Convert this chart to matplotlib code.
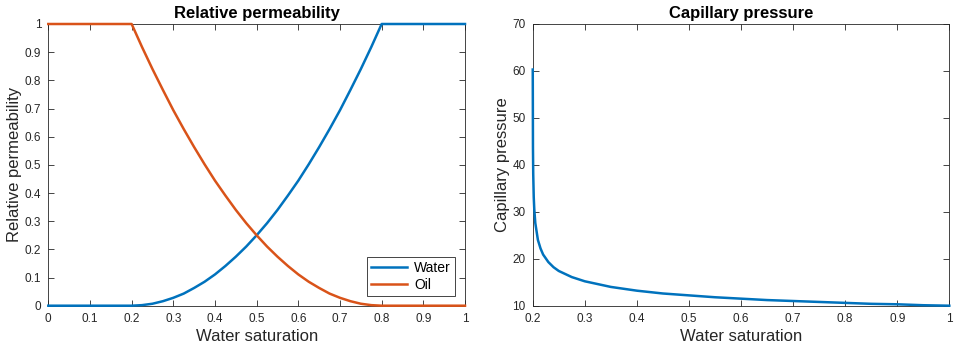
import matplotlib
matplotlib.use("Agg")
import matplotlib.pyplot as plt
from matplotlib.ticker import FuncFormatter, MultipleLocator

# ---- data ----
sw_rel = [0.0, 0.1, 0.2, 0.225, 0.25, 0.275, 0.3, 0.325, 0.35, 0.375, 0.4, 0.425,
          0.45, 0.475, 0.5, 0.525, 0.55, 0.575, 0.6, 0.625, 0.65, 0.675, 0.7,
          0.725, 0.75, 0.775, 0.8, 0.9, 1.0]
krw = [0.0, 0.0, 0.0, 0.002, 0.007, 0.016, 0.028, 0.043, 0.063, 0.085, 0.111, 0.141,
       0.174, 0.210, 0.250, 0.293, 0.340, 0.391, 0.444, 0.502, 0.563, 0.627, 0.694,
       0.766, 0.840, 0.918, 1.0, 1.0, 1.0]
kro = [1.0, 1.0, 1.0, 0.918, 0.840, 0.766, 0.694, 0.627, 0.563, 0.502, 0.444, 0.391,
       0.340, 0.293, 0.250, 0.210, 0.174, 0.141, 0.111, 0.085, 0.063, 0.043, 0.028,
       0.016, 0.007, 0.002, 0.0, 0.0, 0.0]

sw_pc = [0.2001, 0.2005, 0.201, 0.202, 0.203, 0.205, 0.21, 0.215, 0.22, 0.23, 0.24,
         0.25, 0.275, 0.3, 0.35, 0.4, 0.45, 0.5, 0.55, 0.6, 0.65, 0.7, 0.75, 0.8,
         0.85, 0.9, 0.95, 1.0]
pc = [60.3, 43.7, 38.1, 33.1, 30.6, 27.6, 24.0, 22.2, 20.9, 19.3, 18.2,
      17.4, 16.1, 15.2, 14.0, 13.2, 12.6, 12.2, 11.8, 11.5, 11.2, 11.0, 10.8, 10.6,
      10.4, 10.3, 10.1, 10.0]

series_labels = ["Water", "Oil"]
titles = ["Relative permeability", "Capillary pressure"]
xlabel = "Water saturation"
ylabels = ["Relative permeability", "Capillary pressure"]

blue = "#0072BD"
orange = "#D95319"
axcol = "#262626"

plt.rcParams['font.family'] = ['Liberation Sans', 'DejaVu Sans']

fig = plt.figure(figsize=(9.69, 3.52), dpi=100)
W, H = 969, 352
def rect(x0, x1, ytop, ybot):
    return [x0 / W, 1 - ybot / H, (x1 - x0) / W, (ybot - ytop) / H]

ax1 = fig.add_axes(rect(48.3, 465, 24, 305.7))
ax2 = fig.add_axes(rect(532.7, 949.3, 24, 305.7))

fmt = FuncFormatter(lambda v, p: ("%g" % round(v, 6)))

def style(ax):
    ax.tick_params(direction="in", top=True, right=True, length=4, width=0.6,
                   labelsize=8.5, colors=axcol, pad=5)
    for s in ax.spines.values():
        s.set_color(axcol)
        s.set_linewidth(0.6)
    ax.xaxis.set_major_formatter(fmt)
    ax.yaxis.set_major_formatter(fmt)

l1, = ax1.plot(sw_rel, krw, color=blue, lw=1.8, label=series_labels[0],
               clip_on=False, zorder=3)
l2, = ax1.plot(sw_rel, kro, color=orange, lw=1.8, label=series_labels[1],
               clip_on=False, zorder=3)
ax1.set_xlim(0, 1)
ax1.set_ylim(0, 1)
ax1.xaxis.set_major_locator(MultipleLocator(0.1))
ax1.yaxis.set_major_locator(MultipleLocator(0.1))
style(ax1)
ax1.set_title(titles[0], fontsize=12, fontweight="bold", pad=4)
ax1.set_xlabel(xlabel, fontsize=12, color=axcol, labelpad=3)
ax1.set_ylabel(ylabels[0], fontsize=12, color=axcol, labelpad=2)
leg = ax1.legend(loc="lower right", fontsize=10, frameon=True, fancybox=False,
                 framealpha=1, edgecolor=axcol, handlelength=2.6,
                 borderaxespad=0.7, borderpad=0.3, labelspacing=0.2, handletextpad=0.5)
leg.get_frame().set_linewidth(0.6)
leg.set_zorder(5)

ax2.plot(sw_pc, pc, color=blue, lw=1.8, clip_on=False, zorder=3)
ax2.set_xlim(0.2, 1)
ax2.set_ylim(10, 70)
ax2.xaxis.set_major_locator(MultipleLocator(0.1))
ax2.yaxis.set_major_locator(MultipleLocator(10))
style(ax2)
ax2.set_title(titles[1], fontsize=12, fontweight="bold", pad=4)
ax2.set_xlabel(xlabel, fontsize=12, color=axcol, labelpad=3)
ax2.set_ylabel(ylabels[1], fontsize=12, color=axcol, labelpad=2)

fig.savefig("out.png", dpi=100)
